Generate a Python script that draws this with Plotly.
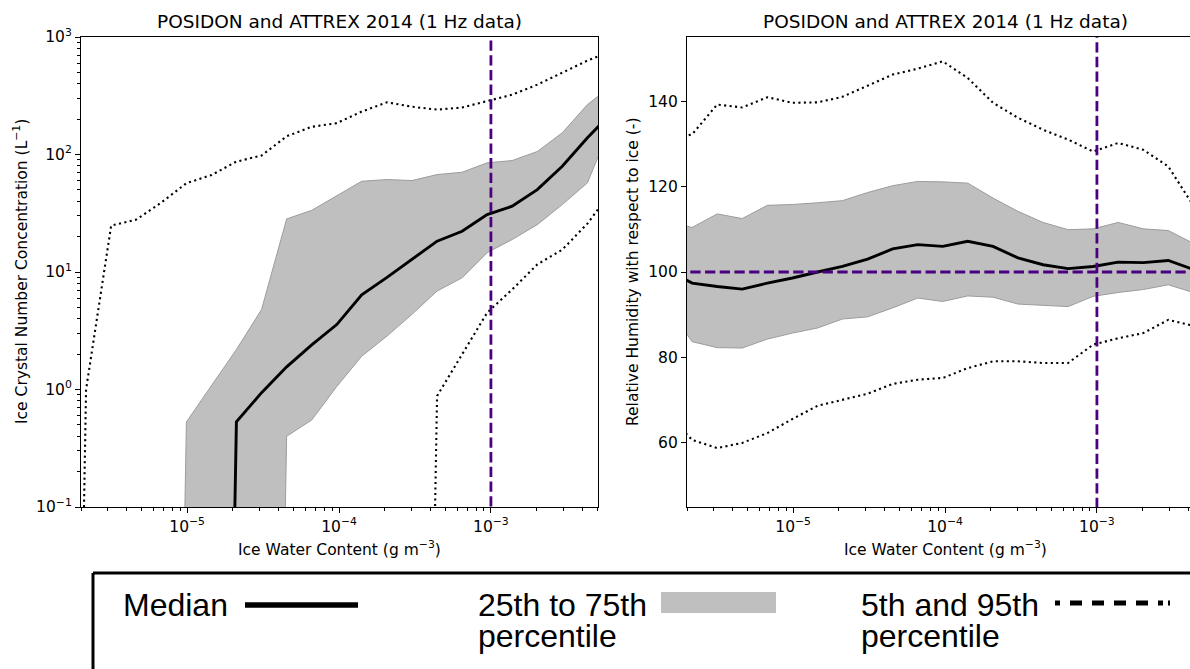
import math
import plotly.graph_objects as go

# ---------------- data ----------------
# Ice water content bin centres (g m^-3)
IWC = [1.48e-6, 2.16e-6, 3.16e-6, 4.62e-6, 6.76e-6, 9.89e-6, 1.45e-5, 2.11e-5,
       3.09e-5, 4.52e-5, 6.61e-5, 9.66e-5, 1.41e-4, 2.07e-4, 3.02e-4, 4.42e-4,
       6.46e-4, 9.44e-4, 1.38e-3, 2.02e-3, 2.95e-3, 4.32e-3, 6.31e-3]

# Ice crystal number concentration percentiles (L^-1); 0 = no data / below axis
ICNC_P5 = [0, 0, 0, 0, 0, 0, 0, 0, 0, 0, 0, 0, 0, 0, 0,
           0.88, 2.0, 4.5, 7.1, 11.6, 15.5, 25.8, 50]
ICNC_P25 = [0, 0, 0, 0, 0, 0, 0, 0, 0,
            0.40, 0.55, 1.06, 1.92, 2.85, 4.36, 6.88, 8.93, 14.6, 18.9, 25.3, 37.5, 57.4, 190]
ICNC_P50 = [0, 0, 0, 0, 0, 0, 0,
            0.53, 0.94, 1.56, 2.4, 3.57, 6.4, 9.0, 12.8, 18.3, 22.2, 30.8, 36.3, 50.2, 79.4, 139, 230]
ICNC_P75 = [0, 0, 0, 0, 0,
            0.53, 1.08, 2.19, 4.8, 28.3, 33.5, 44.7, 59.2, 61.2, 60, 67.5, 70.6, 84.9, 88.8, 106, 153, 266, 390]
ICNC_P95 = [0,
            1.0, 24.8, 27.9, 39, 57, 67, 87, 98, 143, 172, 185, 232, 278, 255, 241, 251,
            285, 323, 393, 494, 630, 760]

# Relative humidity with respect to ice percentiles (%)
RHI_P5 = [67, 60.7, 58.8, 60.0, 62.3, 65.6, 68.7, 70.1, 71.5, 73.8, 74.8, 75.2,
          77.5, 79.1, 79.1, 78.7, 78.7, 83.0, 84.5, 85.7, 88.8, 87.4, 87]
RHI_P25 = [92, 83.7, 82.3, 82.2, 84.3, 85.7, 86.9, 89.0, 89.5, 91.6, 93.9, 93.1,
           94.4, 94.1, 92.5, 92.2, 91.9, 94.3, 95.2, 95.9, 97.0, 95.2, 94]
RHI_P50 = [100.5, 97.4, 96.6, 96.0, 97.4, 98.6, 100.0, 101.3, 103.0, 105.4, 106.4, 106.0,
           107.2, 106.0, 103.3, 101.7, 100.8, 101.3, 102.3, 102.2, 102.7, 100.6, 100]
RHI_P75 = [112, 110.4, 113.6, 112.5, 115.6, 115.8, 116.2, 116.7, 118.6, 120.2, 121.2, 121.1,
           120.8, 117.3, 114.2, 111.6, 109.9, 110.1, 111.6, 110.1, 109.7, 106.7, 105]
RHI_P95 = [131, 132.2, 139.2, 138.5, 140.9, 139.6, 139.7, 141.0, 143.6, 146.2, 147.6, 149.3,
           145.4, 139.6, 136.1, 133.3, 131.0, 128.2, 130.2, 128.6, 124.7, 115.5, 108]

IWC_THRESHOLD = 1e-3
RHI_SATURATION = 100

TITLE = "POSIDON and ATTREX 2014 (1 Hz data)"
X_TICKS = [1e-5, 1e-4, 1e-3]
X_TICKTEXT = ["10<sup>−5</sup>", "10<sup>−4</sup>", "10<sup>−3</sup>"]
Y1_TICKS = [0.1, 1, 10, 100, 1000]
Y1_TICKTEXT = ["10<sup>−1</sup>", "10<sup>0</sup>", "10<sup>1</sup>", "10<sup>2</sup>", "10<sup>3</sup>"]
Y2_TICKS = [60, 80, 100, 120, 140]

# ---------------- styling ----------------
W, H = 1190, 669
FILL = "#bfbfbf"
EDGE = "#9c9c9c"
PURPLE = "#4b0082"
DOT = "2.1px,3.4px"
DASH = "10.3px,4.4px"
AXFONT = "DejaVu Sans"
LEGFONT = "Liberation Sans, Arial, sans-serif"
CLIP = 1e-12  # like matplotlib's clipping of non-positive values on a log axis


def clip_log(vals):
    return [v if v > 0 else CLIP for v in vals]


def px(x):
    return x / W


def py(y):
    return 1 - y / H


fig = go.Figure()


def add_panel(xa, ya, p5, p25, p50, p75, p95, logy):
    f = clip_log if logy else (lambda v: v)
    common = dict(xaxis=xa, yaxis=ya, mode="lines", showlegend=False, hoverinfo="skip")
    fig.add_trace(go.Scatter(x=IWC, y=f(p25), line=dict(color=EDGE, width=1), **common))
    fig.add_trace(go.Scatter(x=IWC, y=f(p75), fill="tonexty", fillcolor=FILL,
                             line=dict(color=EDGE, width=1), **common))
    fig.add_trace(go.Scatter(x=IWC, y=f(p5), line=dict(color="black", width=2.1, dash=DOT), **common))
    fig.add_trace(go.Scatter(x=IWC, y=f(p95), line=dict(color="black", width=2.1, dash=DOT), **common))
    fig.add_trace(go.Scatter(x=IWC, y=f(p50), line=dict(color="black", width=2.9), **common))


add_panel("x", "y", ICNC_P5, ICNC_P25, ICNC_P50, ICNC_P75, ICNC_P95, True)
add_panel("x2", "y2", RHI_P5, RHI_P25, RHI_P50, RHI_P75, RHI_P95, False)

# reference lines (clipped by the plot area)
fig.add_trace(go.Scatter(x=[IWC_THRESHOLD, IWC_THRESHOLD], y=[1e-6, 1e6], xaxis="x", yaxis="y",
                         mode="lines", line=dict(color=PURPLE, width=2.8, dash=DASH),
                         showlegend=False, hoverinfo="skip"))
fig.add_trace(go.Scatter(x=[IWC_THRESHOLD, IWC_THRESHOLD], y=[0, 300], xaxis="x2", yaxis="y2",
                         mode="lines", line=dict(color=PURPLE, width=2.8, dash=DASH),
                         showlegend=False, hoverinfo="skip"))
fig.add_trace(go.Scatter(x=[1e-8, 1], y=[RHI_SATURATION, RHI_SATURATION], xaxis="x2", yaxis="y2",
                         mode="lines", line=dict(color=PURPLE, width=2.8, dash=DASH),
                         showlegend=False, hoverinfo="skip"))

minor_x = [m * 10 ** e for e in range(-7, -1) for m in range(2, 10)]
minor_y = [m * 10 ** e for e in range(-2, 4) for m in range(2, 10)]

tickfont = dict(family=AXFONT, size=15.5, color="black")
base_axis = dict(showline=True, linecolor="black", linewidth=1.1, ticks="outside",
                 ticklen=5, tickwidth=1.1, tickcolor="black", showgrid=False,
                 zeroline=False, tickfont=tickfont, automargin=False, tickmode="array")

ydom = [py(507), py(37)]
left_dom = [px(81), px(598)]
right_dom = [px(687), 1.0]
dec_px = (598 - 81) / (math.log10(5.07e-3) - math.log10(2e-6))
x_lo = math.log10(2e-6)

minor_log = dict(ticks="outside", ticklen=3, tickwidth=0.8, tickcolor="black", showgrid=False)

fig.update_layout(
    width=W, height=H, margin=dict(l=0, r=0, t=0, b=0),
    template="none", paper_bgcolor="white", plot_bgcolor="white",
    xaxis=dict(base_axis, type="log", domain=left_dom, anchor="y", mirror=True,
               range=[x_lo, math.log10(5.07e-3)], tickvals=X_TICKS, ticktext=X_TICKTEXT,
               minor=dict(minor_log, tickvals=minor_x)),
    yaxis=dict(base_axis, type="log", domain=ydom, anchor="x", mirror=True,
               range=[-1, 3], tickvals=Y1_TICKS, ticktext=Y1_TICKTEXT,
               minor=dict(minor_log, tickvals=minor_y)),
    xaxis2=dict(base_axis, type="log", domain=right_dom, anchor="y2", mirror=True,
                range=[x_lo, x_lo + (1190 - 687) / dec_px], tickvals=X_TICKS, ticktext=X_TICKTEXT,
                minor=dict(minor_log, tickvals=minor_x)),
    yaxis2=dict(base_axis, type="linear", domain=ydom, anchor="x2", mirror=False,
                range=[45, 155], tickvals=Y2_TICKS),
)

ann = []
lab = dict(family=AXFONT, size=15.5, color="black")
for cx in (339.5, 945.5):
    ann.append(dict(text=TITLE, x=px(cx), y=py(21.5), xanchor="center", yanchor="middle",
                    font=dict(family=AXFONT, size=18.5, color="black")))
    ann.append(dict(text="Ice Water Content (g m<sup>−3</sup>)", x=px(cx), y=py(548),
                    xanchor="center", yanchor="middle", font=lab))
ann.append(dict(text="Ice Crystal Number Concentration (L<sup>−1</sup>)", x=px(20), y=py(272),
                textangle=-90, xanchor="center", yanchor="middle", font=lab))
ann.append(dict(text="Relative Humidity with respect to ice (-)", x=px(633), y=py(272),
                textangle=-90, xanchor="center", yanchor="middle", font=lab))

leg = dict(family=LEGFONT, size=32, color="black")
for txt, x, y in [("Median", 121, 604.5), ("25th to 75th", 476, 604.5), ("percentile", 476, 635.5),
                  ("5th and 95th", 859, 604.5), ("percentile", 859, 635.5)]:
    ann.append(dict(text=txt, x=px(x), y=py(y), xanchor="left", yanchor="middle", font=leg))
for a in ann:
    a.update(xref="paper", yref="paper", showarrow=False)
fig.update_layout(annotations=ann)

shapes = [
    # legend frame (continues beyond the page)
    dict(type="line", x0=px(93), x1=px(1250), y0=py(573), y1=py(573), line=dict(color="black", width=3)),
    dict(type="line", x0=px(93), x1=px(93), y0=py(573), y1=py(720), line=dict(color="black", width=3)),
    # legend glyphs
    dict(type="line", x0=px(245), x1=px(358), y0=py(605), y1=py(605), line=dict(color="black", width=5.5)),
    dict(type="rect", x0=px(661), x1=px(776), y0=py(613), y1=py(592), fillcolor=FILL, line=dict(width=0)),
    dict(type="line", x0=px(1055), x1=px(1170), y0=py(603), y1=py(603),
         line=dict(color="black", width=5, dash="5px,10px,12px,10px,12px,10px,12px,10px,12px,10px,5px")),
]
for s in shapes:
    s.update(xref="paper", yref="paper")
fig.update_layout(shapes=shapes)

fig.write_html("out.html")
